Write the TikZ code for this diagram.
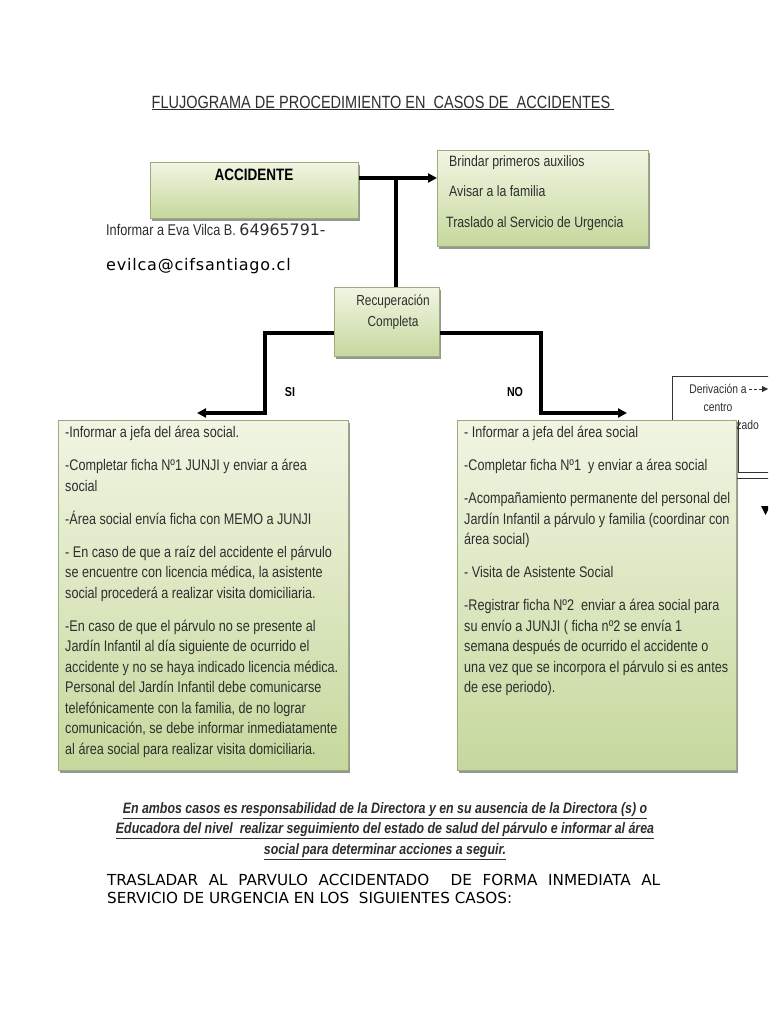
\documentclass[tikz,border=0pt]{standalone}
\usepackage{fontspec}
\usetikzlibrary{arrows.meta,shadows,positioning}
\setmainfont{Liberation Sans}[FakeStretch=0.82]
\newfontfamily\dejavu{DejaVu Sans}
\newfontfamily\dejavuwide{DejaVu Sans}[LetterSpace=5]
\definecolor{boxtop}{HTML}{F1F5E3}
\definecolor{boxbot}{HTML}{C6D89D}
\definecolor{boxline}{HTML}{9AAB7C}
\definecolor{inkgray}{HTML}{2E2E2E}

\tikzset{
  gbox/.style={draw=boxline, line width=0.8pt, top color=boxtop, bottom color=boxbot,
    drop shadow={shadow xshift=2pt,shadow yshift=-2.5pt,fill=black!45!boxbot!40!black},
    inner sep=0pt, anchor=north west},
  conn/.style={line width=3.5pt},
  tip/.style={-{Triangle[length=9pt,width=9pt]}},
  body/.style={anchor=north west, align=left, inner sep=0pt, text=inkgray,
    font=\fontsize{15.4}{20.5}\selectfont},
  derivtxt/.style={text=inkgray, font=\fontsize{12.6}{14}\selectfont, inner sep=0pt},
}

\begin{document}
\begin{tikzpicture}[x=1pt,y=-1pt]
  \useasboundingbox[fill=white] (0,0) rectangle (768,1024);

  % title
  \node[text=inkgray] (title) at (383,103) {\fontsize{17.7}{20}\selectfont\underline{FLUJOGRAMA DE PROCEDIMIENTO EN \ CASOS DE \ ACCIDENTES\ }};

  % partly hidden box at the right edge
  \begin{scope}
    \clip (0,0) rectangle (768,1024);
    \node[draw=black!80, line width=0.6pt, minimum width=110pt, minimum height=102pt, inner sep=0pt, anchor=north west] (derivbox) at (672,376) {};
    \draw[black!80, line width=0.6pt] (738,420) -- (738,472) -- (780,472);
    \node[derivtxt] (dv1) at (718,389) {Derivación a};
    \node[derivtxt] (dv2) at (718,407.5) {centro};
    \node[derivtxt, anchor=east] (dv3) at (759,426) {especializado};
    \coordinate (derivout) at (768,389);
    \draw[densely dashed, black!80, -{Triangle[length=6pt,width=6pt]}] (dv1.east) ++(2pt,0) -- (derivout);
    \fill[black] (761,506) -- (770,506) -- (765.5,515) -- cycle;
  \end{scope}

  % boxes
  \node[gbox, minimum width=208pt, minimum height=56pt] (acc) at (150,162) {};
  \node[font=\bfseries\fontsize{16.5}{18}\selectfont, text=black] (acctxt) at (254,175) {ACCIDENTE};
  \node[gbox, minimum width=211pt, minimum height=96pt] (aid) at (437,150) {};
  \node[body, font=\fontsize{15}{20.5}\selectfont] (aidtxt) at (449,155)
    {Brindar primeros auxilios\\[10pt] Avisar a la familia\\[10pt]\hspace*{-3pt}Traslado al Servicio de Urgencia};
  \node[gbox, minimum width=105pt, minimum height=69pt] (rec) at (334,287) {};
  \node[align=center, text=inkgray, font=\fontsize{14.5}{21}\selectfont] (rectxt) at (393,312) {Recuperación\\Completa};

  \node[text=inkgray, anchor=base west, inner sep=0pt, font=\fontsize{15.5}{18}\selectfont] (info) at (106,236)
    {Informar a Eva Vilca B. {\dejavu\fontsize{15.8}{18}\selectfont 64965791-}};
  \node[text=black, anchor=base west, inner sep=0pt, font=\dejavuwide\fontsize{16}{18}\selectfont] (mail) at (106,270)
    {evilca@cifsantiago.cl};

  \node[gbox, minimum width=290pt, minimum height=350pt] (sibox) at (58,420) {};
  \node[body] (sitxt) at (65,426)
    {-Informar a jefa del área social.\\[12.5pt]
     -Completar ficha Nº1 JUNJI y enviar a área\\ social\\[12.5pt]
     -Área social envía ficha con MEMO a JUNJI\\[12.5pt]
     - En caso de que a raíz del accidente el párvulo\\ se encuentre con licencia médica, la asistente\\ social procederá a realizar visita domiciliaria.\\[12.5pt]
     -En caso de que el párvulo no se presente al\\ Jardín Infantil al día siguiente de ocurrido el\\ accidente y no se haya indicado licencia médica.\\ Personal del Jardín Infantil debe comunicarse\\ telefónicamente con la familia, de no lograr\\ comunicación, se debe informar inmediatamente\\ al área social para realizar visita domiciliaria.};

  \node[gbox, minimum width=279pt, minimum height=350pt] (nobox) at (457,420) {};
  \node[body] (notxt) at (464,426)
    {- Informar a jefa del área social\\[12.5pt]
     -Completar ficha Nº1 \ y enviar a área social\\[12.5pt]
     -Acompañamiento permanente del personal del\\ Jardín Infantil a párvulo y familia (coordinar con\\ área social)\\[12.5pt]
     - Visita de Asistente Social\\[12.5pt]
     -Registrar ficha Nº2 \ enviar a área social para\\ su envío a JUNJI ( ficha nº2 se envía 1\\ semana después de ocurrido el accidente o\\ una vez que se incorpora el párvulo si es antes\\ de ese periodo).};

  % connectors
  \coordinate (split) at (396,178);
  \coordinate (siturn) at (265,413);
  \coordinate (siend) at (197,413);
  \coordinate (noturn) at (541,413);
  \coordinate (noend) at (627,413);
  \draw[conn, tip] (acc.east |- split) -- (aid.west |- split);
  \draw[conn] ([yshift=1.75pt]split) -- (split |- rec.north);
  \draw[conn, tip] ([yshift=-11pt]rec.west) -| (siturn) -- (siend);
  \draw[conn, tip] ([yshift=-11pt]rec.east) -| (noturn) -- (noend);
  \node[font=\bfseries\fontsize{13}{15}\selectfont] (si) at (290,392) {SI};
  \node[font=\bfseries\fontsize{13}{15}\selectfont] (no) at (515,392) {NO};

  % notes below
  \node[align=center, text=inkgray, font=\bfseries\itshape\fontsize{15.1}{20.5}\selectfont] (note) at (385,831)
    {\underline{En ambos casos es responsabilidad de la Directora y en su ausencia de la Directora (s) o}\\
     \underline{Educadora del nivel \ realizar seguimiento del estado de salud del párvulo e informar al área}\\
     \underline{social para determinar acciones a seguir.}};
  \node[anchor=north west, inner sep=0pt, text width=553pt, align=justify, text=black,
    font=\dejavu\fontsize{15.2}{18}\selectfont] (urgent) at (107,874)
    {TRASLADAR AL PARVULO ACCIDENTADO \ DE FORMA INMEDIATA AL\linebreak SERVICIO DE URGENCIA EN LOS \ SIGUIENTES CASOS:};
\end{tikzpicture}
\end{document}
